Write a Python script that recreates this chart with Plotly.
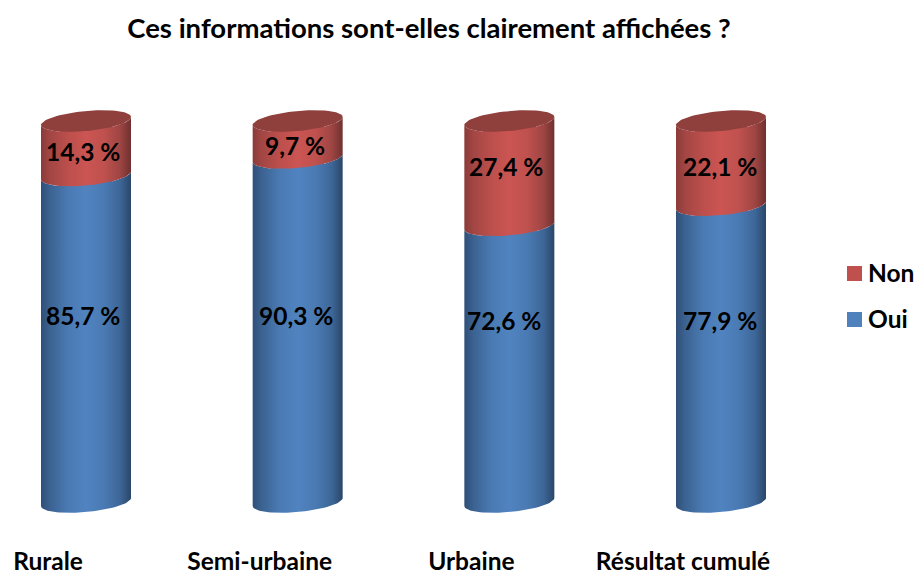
import numpy as np
import plotly.graph_objects as go

categories = ["Rurale", "Semi-urbaine", "Urbaine", "Résultat cumulé"]
oui = [85.7, 90.3, 72.6, 77.9]
non = [14.3, 9.7, 27.4, 22.1]
oui_labels = ["85,7 %", "90,3 %", "72,6 %", "77,9 %"]
non_labels = ["14,3 %", "9,7 %", "27,4 %", "22,1 %"]
legend_names = ["Non", "Oui"]
legend_colors = ["#C0504D", "#4F81BD"]

W, H = 917, 573
MB = 33
STEP = 211.67          # px per category
X0 = 86.0              # px of the first cylinder centre
Y0 = 502.0             # px of value 0
PPU = 3.81             # px per unit
R = 45.0 / STEP        # radius in x units
TILT = 4.0 / PPU
DEPTH = 10.0 / PPU
LABEL_SHIFT = -38.0 / STEP
FONT = "Lato"

def ypx(px):
    return (Y0 - px) / PPU

BLUE = [[0, "#2f4f78"], [0.1, "#3b6291"], [0.3, "#4a7ab3"], [0.5, "#5083c0"],
        [0.7, "#4a7ab3"], [0.88, "#3d6697"], [1, "#2a4668"]]
RED = [[0, "#8a3b39"], [0.1, "#a24644"], [0.3, "#bc4f4c"], [0.5, "#cb5552"],
       [0.7, "#bf514e"], [0.88, "#9e4543"], [1, "#6f302e"]]

theta = np.linspace(np.pi, 2 * np.pi, 41)

def front(cx, level):
    return cx + R * np.cos(theta), level + TILT * np.cos(theta) + DEPTH * np.sin(theta)

fig = go.Figure()
idx = list(range(len(categories)))

# real stacked bars: carry the data; the cylinders are painted over them
fig.add_bar(x=idx, y=oui, name="Oui", width=0.25, showlegend=False,
            marker=dict(color="#4F81BD", line=dict(width=0)))
fig.add_bar(x=idx, y=non, name="Non", width=0.25, showlegend=False,
            marker=dict(color="#C0504D", line=dict(width=0)))

def body(cx, low, high, scale):
    x1, y1 = front(cx, low)
    x2, y2 = front(cx, high)
    fig.add_scatter(x=np.r_[x1, x2[::-1], x1[0]], y=np.r_[y1, y2[::-1], y1[0]],
                    mode="lines", line=dict(width=0), fill="toself", showlegend=False,
                    hoverinfo="skip",
                    fillgradient=dict(type="horizontal", colorscale=scale))

for i in idx:
    body(i, 0, oui[i], BLUE)
    body(i, oui[i], oui[i] + non[i], RED)
    t = np.linspace(0, 2 * np.pi, 81)
    top = oui[i] + non[i]
    fig.add_scatter(x=i + R * np.cos(t), y=top + TILT * np.cos(t) + DEPTH * np.sin(t),
                    mode="lines", line=dict(width=0), fill="toself", showlegend=False,
                    hoverinfo="skip", fillcolor="#8f3f3c")

oui_pos = [(83, 315.5), (296, 315.5), (504, 320.5), (720, 320.5)]
non_pos = [(83, 151), (295, 145), (506, 166), (720, 166)]
for labels, pos in ((oui_labels, oui_pos), (non_labels, non_pos)):
    for txt, (px, py) in zip(labels, pos):
        fig.add_annotation(x=(px - X0) / STEP, y=ypx(py), text=txt, showarrow=False,
                           font=dict(size=24.5, color="#000000", family=FONT, weight=700))

# legend key
for name, col, (top, text_y) in zip(legend_names, legend_colors, [(266, 272), (312, 318)]):
    fig.add_shape(type="rect", xref="paper", yref="paper", x0=847 / W, x1=862 / W,
                  y0=1 - (top + 15) / (H - MB), y1=1 - top / (H - MB),
                  fillcolor=col, line=dict(width=0))
    fig.add_annotation(xref="paper", yref="paper", x=866 / W, y=1 - text_y / (H - MB),
                       text=name, showarrow=False, xanchor="left",
                       font=dict(size=24.5, color="#000000", family=FONT, weight=700))

fig.update_layout(
    width=W, height=H, autosize=False,
    barmode="stack",
    margin=dict(l=0, r=0, t=0, b=MB, pad=0),
    paper_bgcolor="#ffffff", plot_bgcolor="#ffffff",
    title=dict(text="Ces informations sont-elles clairement affichées ?",
               x=429 / W, xanchor="center", y=1 - 28 / H, yanchor="middle",
               font=dict(size=27.5, color="#000000", family=FONT, weight=700)),
    xaxis=dict(range=[-X0 / STEP, (W - X0) / STEP], tickmode="array",
               tickvals=[i + LABEL_SHIFT for i in idx], ticktext=categories,
               showgrid=False, zeroline=False, showline=False, ticks="",
               automargin=False, ticklabelstandoff=4,
               tickfont=dict(size=24.5, color="#000000", family=FONT, weight=700)),
    yaxis=dict(range=[ypx(H - MB), ypx(0)], visible=False, showgrid=False, zeroline=False,
               automargin=False),
    showlegend=False,
)
fig.write_html("out.html", config={"displayModeBar": False},
               post_script="document.body.style.margin='0';document.body.style.overflow='hidden';")
